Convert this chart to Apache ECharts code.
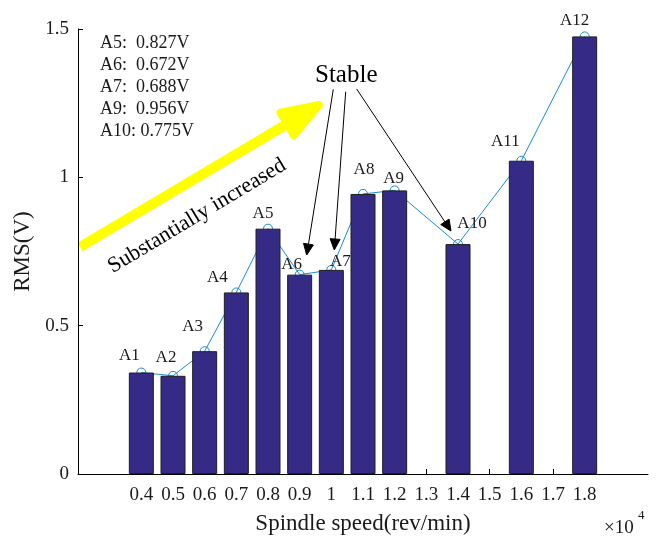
<!DOCTYPE html>
<html>
<head>
<meta charset="utf-8">
<title>RMS vs spindle speed</title>
<script src="https://cdn.jsdelivr.net/npm/echarts@6/dist/echarts.min.js"></script>
<style>
  html, body { margin: 0; padding: 0; background: #ffffff; }
  #chart { width: 659px; height: 536px; }
</style>
</head>
<body>
<div id="chart"></div>
<script>
// Spindle speed (×10^4 rev/min) and measured RMS (V) at each test point
const speeds = [0.4, 0.5, 0.6, 0.7, 0.8, 0.9, 1.0, 1.1, 1.2, 1.4, 1.6, 1.8];
const rms = [0.342, 0.331, 0.414, 0.612, 0.827, 0.672, 0.688, 0.944, 0.956, 0.775, 1.056, 1.475];
const pointNames = ['A1', 'A2', 'A3', 'A4', 'A5', 'A6', 'A7', 'A8', 'A9', 'A10', 'A11', 'A12'];
const xTickValues = [0.4, 0.5, 0.6, 0.7, 0.8, 0.9, 1.0, 1.1, 1.2, 1.3, 1.4, 1.5, 1.6, 1.7, 1.8];
const listedPoints = ['A5', 'A6', 'A7', 'A9', 'A10'];

// pixel nudges for the point names, relative to each marker
const nameOffsets = [[-12, -17], [-7, -18], [-12, -25], [-19, -15], [-5, -15], [-8, -10],
                     [9, -8], [1, -24], [-1, -12], [14, -21], [-16, -19], [-10, -16]];

const FONT = '"Liberation Serif", "Times New Roman", serif';
const BAR = '#352a86';
const LINE = '#1a8ad8';

const chart = echarts.init(document.getElementById('chart'), null, { renderer: 'canvas' });

const points = speeds.map((s, i) => [s, rms[i]]);

function arrow(x1, y1, x2, y2, headLen, headHalf, color, shaftWidth, headStroke) {
  const dx = x2 - x1, dy = y2 - y1;
  const L = Math.sqrt(dx * dx + dy * dy);
  const ux = dx / L, uy = dy / L;
  const bx = x2 - ux * headLen, by = y2 - uy * headLen;
  const px = -uy, py = ux;
  return [
    { type: 'line', silent: true,
      shape: { x1: x1, y1: y1, x2: bx + ux * 1, y2: by + uy * 1 },
      style: { stroke: color, lineWidth: shaftWidth, lineCap: 'butt' } },
    { type: 'polygon', silent: true,
      shape: { points: [[x2, y2], [bx + px * headHalf, by + py * headHalf], [bx - px * headHalf, by - py * headHalf]] },
      style: { fill: color, stroke: color, lineWidth: headStroke, lineJoin: 'round' } }
  ];
}

const listText = listedPoints.map(n => {
  const i = pointNames.indexOf(n);
  return n + ':' + (n.length === 2 ? '  ' : ' ') + rms[i].toFixed(3) + 'V';
}).join('\n');

const graphics = [].concat(
  // yellow trend arrow
  arrow(80, 247, 319, 105, 37, 13, '#ffff00', 10, 8),
  // arrows from "Stable" to A6, A7 and A10
  arrow(333.3, 89.3, 306.7, 255, 11, 5, '#000000', 1, 1),
  arrow(345.7, 91.7, 334.3, 250, 11, 5, '#000000', 1, 1),
  arrow(356.7, 89, 451, 231, 11, 5, '#000000', 1, 1),
  [
    { type: 'text', silent: true, x: 100, y: 32,
      style: { text: listText, font: '18px ' + FONT, fill: '#1a1a1a', lineHeight: 22,
               textAlign: 'left', textVerticalAlign: 'top' } },
    { type: 'text', silent: true, x: 315, y: 75,
      style: { text: 'Stable', font: '25px ' + FONT, fill: '#000000',
               textAlign: 'left', textVerticalAlign: 'middle' } },
    { type: 'text', silent: true, x: 197, y: 216, rotation: 31 * Math.PI / 180,
      style: { text: 'Substantially increased', font: '22px ' + FONT, fill: '#000000',
               textAlign: 'center', textVerticalAlign: 'middle' } },
    { type: 'text', silent: true, x: 604, y: 528,
      style: { text: '×10', font: '19px ' + FONT, fill: '#1a1a1a',
               textAlign: 'left', textVerticalAlign: 'middle' } },
    { type: 'text', silent: true, x: 638, y: 516,
      style: { text: '4', font: '13px ' + FONT, fill: '#1a1a1a',
               textAlign: 'left', textVerticalAlign: 'middle' } }
  ]
);

const option = {
  animation: false,
  backgroundColor: '#ffffff',
  grid: { left: 78, right: 11, top: 29, bottom: 62, containLabel: false, outerBoundsMode: 'none' },
  xAxis: {
    type: 'value',
    min: 0.2,
    max: 2.0,
    interval: 0.1,
    name: 'Spindle speed(rev/min)',
    nameLocation: 'middle',
    nameGap: 38,
    nameTextStyle: { fontFamily: FONT, fontSize: 23, color: '#1a1a1a' },
    axisLine: { show: true, lineStyle: { color: '#000000', width: 1 } },
    axisTick: { show: true, inside: true, length: 5, customValues: xTickValues,
                lineStyle: { color: '#000000' } },
    axisLabel: {
      customValues: xTickValues,
      formatter: v => String(+(+v).toFixed(1)),
      fontFamily: FONT, fontSize: 19, color: '#1a1a1a', margin: 12
    },
    splitLine: { show: false }
  },
  yAxis: {
    type: 'value',
    min: 0,
    max: 1.5,
    interval: 0.5,
    name: 'RMS(V)',
    nameLocation: 'middle',
    nameGap: 36,
    nameRotate: 90,
    nameTextStyle: { fontFamily: FONT, fontSize: 23, color: '#1a1a1a' },
    axisLine: { show: true, lineStyle: { color: '#000000', width: 1 } },
    axisTick: { show: true, inside: true, length: 5, lineStyle: { color: '#000000' } },
    axisLabel: {
      formatter: v => String(+(+v).toFixed(1)),
      fontFamily: FONT, fontSize: 19, color: '#1a1a1a', margin: 9
    },
    splitLine: { show: false }
  },
  series: [
    {
      type: 'line',
      z: 1,
      data: points.map((p, i) => ({
        value: p,
        label: { offset: nameOffsets[i] }
      })),
      symbol: 'circle',
      symbolSize: 9,
      showAllSymbol: true,
      lineStyle: { color: LINE, width: 1 },
      itemStyle: { color: 'rgba(0,0,0,0)', borderColor: LINE, borderWidth: 1 },
      label: {
        show: true,
        position: 'inside',
        formatter: p => pointNames[p.dataIndex],
        fontFamily: FONT, fontSize: 17, color: '#1a1a1a',
        align: 'center', verticalAlign: 'middle'
      },
      emphasis: { disabled: true }
    },
    {
      type: 'bar',
      z: 2,
      data: points,
      barWidth: 25,
      itemStyle: { color: BAR, borderColor: '#1e1e1e', borderWidth: 1 },
      emphasis: { disabled: true }
    }
  ],
  graphic: graphics
};

chart.setOption(option);
</script>
</body>
</html>
